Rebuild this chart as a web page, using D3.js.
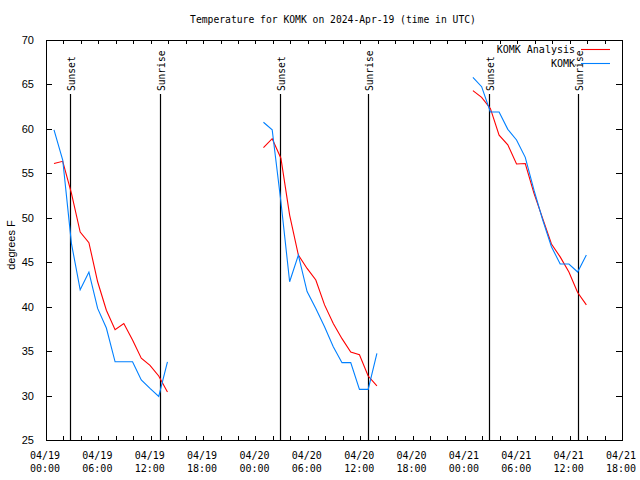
<!DOCTYPE html>
<html><head><meta charset="utf-8">
<script src="https://cdn.jsdelivr.net/npm/d3@7"></script>
<style>body{margin:0;background:#fff}svg{display:block}</style>
</head><body>
<script>
// ---- data ----
const segmentStarts = ["2024-04-19T00:55:00Z", "2024-04-20T00:55:00Z", "2024-04-21T00:55:00Z"];
const analysisSeg1 = [56.1, 56.35, 52.75, 48.4, 47.2, 42.8, 39.6, 37.4, 38.1, 36.25, 34.2, 33.4, 32.2, 30.4];
const analysisSeg2 = [57.9, 58.9, 56.7, 50.3, 45.8, 44.3, 43.0, 40.2, 38.1, 36.4, 34.9, 34.6, 32.2, 31.1];
const analysisSeg3 = [64.3, 63.55, 62.3, 59.3, 58.2, 56.05, 56.1, 52.75, 49.9, 47.05, 45.6, 43.9, 41.6, 40.2];
const obsSeg1 = [59.9, 56.5, 47.1, 41.9, 43.9, 39.8, 37.6, 33.8, 33.8, 33.8, 31.75, 30.8, 29.9, 33.8];
const obsSeg2 = [60.75, 59.9, 51.8, 42.8, 45.8, 41.7, 39.8, 37.75, 35.5, 33.7, 33.7, 30.7, 30.7, 34.75];
const obsSeg3 = [65.8, 64.75, 61.9, 61.9, 59.95, 58.75, 56.8, 53.1, 49.75, 46.75, 44.8, 44.8, 43.9, 45.8];
const sunEvents = [
  {label: "Sunset",  time: "2024-04-19T02:47:00Z"},
  {label: "Sunrise", time: "2024-04-19T13:03:00Z"},
  {label: "Sunset",  time: "2024-04-20T02:48:00Z"},
  {label: "Sunrise", time: "2024-04-20T12:57:00Z"},
  {label: "Sunset",  time: "2024-04-21T02:49:00Z"},
  {label: "Sunrise", time: "2024-04-21T12:55:00Z"}
];
const yTicks = [25, 30, 35, 40, 45, 50, 55, 60, 65, 70];
const xDomain = ["2024-04-19T00:00:00Z", "2024-04-21T18:00:00Z"];
const seriesNames = ["KOMK Analysis", "KOMK"];
const seriesColors = ["#ff0000", "#0080ff"];
const titleText = "Temperature for KOMK on 2024-Apr-19 (time in UTC)";
const yLabel = "degrees F";

// ---- chart ----
const W = 640, H = 480;
const L = 46, R = 622, T = 40, B = 440;
const mono = "'DejaVu Sans Mono', monospace";
const sans = "'Liberation Sans', Arial, sans-serif";

const svg = d3.select("body").append("svg").attr("width", W).attr("height", H);

const x = d3.scaleUtc().domain(xDomain.map(d => new Date(d))).range([L, R]);
const y = d3.scaleLinear().domain([25, 70]).range([B, T]);

function seg(start, vals) {
  const t0 = new Date(start);
  return vals.map((v, i) => ({t: d3.utcHour.offset(t0, i), v}));
}
const analysis = [seg(segmentStarts[0], analysisSeg1), seg(segmentStarts[1], analysisSeg2), seg(segmentStarts[2], analysisSeg3)];
const obs = [seg(segmentStarts[0], obsSeg1), seg(segmentStarts[1], obsSeg2), seg(segmentStarts[2], obsSeg3)];

// title
svg.append("text").attr("x", 333).attr("y", 23).attr("text-anchor", "middle")
  .attr("font-family", mono).attr("font-size", 9.7).text(titleText);

// y label
svg.append("text").attr("transform", "translate(15,245) rotate(-90)").attr("text-anchor", "middle")
  .attr("font-family", sans).attr("font-size", 11).text(yLabel);

// y axis ticks (left & right)
const yAxisL = d3.axisLeft(y).tickValues(yTicks).tickSize(-6).tickPadding(12).tickFormat(d3.format("d"));
const gL = svg.append("g").attr("transform", `translate(${L},0)`).call(yAxisL);
gL.select(".domain").remove();
gL.selectAll("text").attr("font-family", sans).attr("font-size", 11).attr("fill", "#000");
gL.selectAll("line").attr("stroke", "#000").attr("shape-rendering", "crispEdges");
const yAxisR = d3.axisRight(y).tickValues(yTicks).tickSize(-6).tickFormat("");
const gR = svg.append("g").attr("transform", `translate(${R},0)`).call(yAxisR);
gR.select(".domain").remove();
gR.selectAll("line").attr("stroke", "#000").attr("shape-rendering", "crispEdges");

// x axis ticks (bottom & top)
const xTicks2h = d3.utcHour.every(2).range(x.domain()[0], d3.utcHour.offset(x.domain()[1], 1));
const xTicks6h = d3.utcHour.every(6).range(x.domain()[0], d3.utcHour.offset(x.domain()[1], 1));
const xAxisB = d3.axisBottom(x).tickValues(xTicks2h).tickSize(-4).tickFormat("");
const gB = svg.append("g").attr("transform", `translate(0,${B})`).call(xAxisB);
gB.select(".domain").remove();
gB.selectAll("line").attr("stroke", "#000").attr("shape-rendering", "crispEdges");
const xAxisT = d3.axisTop(x).tickValues(xTicks2h).tickSize(-4).tickFormat("");
const gT = svg.append("g").attr("transform", `translate(0,${T})`).call(xAxisT);
gT.select(".domain").remove();
gT.selectAll("line").attr("stroke", "#000").attr("shape-rendering", "crispEdges");

// x tick labels (two lines)
const fmtDate = d3.utcFormat("%m/%d"), fmtTime = d3.utcFormat("%H:%M");
const xl = svg.append("g").attr("font-family", mono).attr("font-size", 10).attr("text-anchor", "middle");
xl.selectAll("text.d").data(xTicks6h).join("text").attr("class", "d")
  .attr("x", d => x(d) - 1).attr("y", 459).text(d => fmtDate(d));
xl.selectAll("text.t").data(xTicks6h).join("text").attr("class", "t")
  .attr("x", d => x(d) - 1).attr("y", 472).text(d => fmtTime(d));

// sunrise / sunset lines
const sg = svg.append("g");
sg.selectAll("line").data(sunEvents).join("line")
  .attr("x1", d => Math.round(x(new Date(d.time))) + 0.5).attr("x2", d => Math.round(x(new Date(d.time))) + 0.5)
  .attr("y1", 94).attr("y2", B).attr("stroke", "#000").attr("stroke-width", 1.2);
sg.selectAll("text").data(sunEvents).join("text")
  .attr("transform", d => `translate(${Math.round(x(new Date(d.time))) + 5},91) rotate(-90)`)
  .attr("font-family", mono).attr("font-size", 9.6).attr("text-anchor", "start").text(d => d.label);

// series lines
const line = d3.line().x(d => x(d.t)).y(d => y(d.v));
const lg = svg.append("g").attr("fill", "none").attr("stroke-width", 1.1);
analysis.forEach(s => lg.append("path").datum(s).attr("d", line).attr("stroke", seriesColors[0]));
obs.forEach(s => lg.append("path").datum(s).attr("d", line).attr("stroke", seriesColors[1]));

// frame
svg.append("rect").attr("x", L + 0.5).attr("y", T + 0.5).attr("width", R - L).attr("height", B - T)
  .attr("fill", "none").attr("stroke", "#000").attr("shape-rendering", "crispEdges");

// legend
const leg = svg.append("g").attr("font-family", mono).attr("font-size", 10);
seriesNames.forEach((n, i) => {
  const yy = 49 + i * 14;
  leg.append("text").attr("x", 575).attr("y", yy + 3.5).attr("text-anchor", "end").text(n);
  leg.append("line").attr("x1", 581).attr("x2", 610).attr("y1", yy + 0.5).attr("y2", yy + 0.5)
    .attr("stroke", seriesColors[i]).attr("stroke-width", 1.1);
});
</script>
</body></html>
